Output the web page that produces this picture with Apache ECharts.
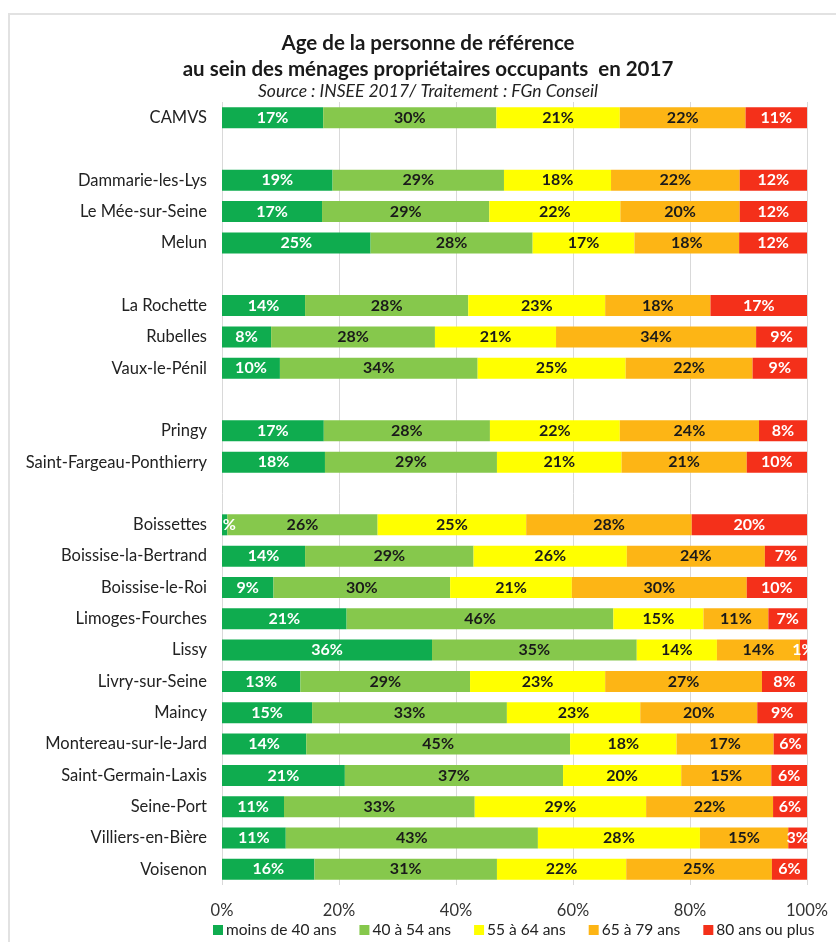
<!DOCTYPE html>
<html><head><meta charset="utf-8">
<script src="https://cdn.jsdelivr.net/npm/echarts@6/dist/echarts.min.js"></script>
<style>html,body{margin:0;padding:0;background:#fff}#c{width:836px;height:942px}</style>
</head><body><div id="c"></div>
<script>
const categories = ['CAMVS',' ','Dammarie-les-Lys','Le Mée-sur-Seine','Melun','  ','La Rochette','Rubelles','Vaux-le-Pénil','   ','Pringy','Saint-Fargeau-Ponthierry','    ','Boissettes','Boissise-la-Bertrand','Boissise-le-Roi','Limoges-Fourches','Lissy','Livry-sur-Seine','Maincy','Montereau-sur-le-Jard','Saint-Germain-Laxis','Seine-Port','Villiers-en-Bière','Voisenon'];
const seriesNames = ['moins de 40 ans','40 à 54 ans','55 à 64 ans','65 à 79 ans','80 ans ou plus'];
const moins40 = [17.3,null,18.9,17.1,25.4,null,14.2,8.4,9.9,null,17.4,17.6,null,0.9,14.2,8.8,21.3,35.9,13.4,15.4,14.4,21.0,10.6,10.9,15.8];
const de40a54 = [29.6,null,29.3,28.6,27.7,null,27.9,28.0,33.8,null,28.4,29.4,null,25.7,28.8,30.2,45.6,35.0,29.0,33.3,45.1,37.3,32.6,43.1,31.2];
const de55a64 = [21.1,null,18.3,22.4,17.4,null,23.4,20.7,25.3,null,22.2,21.3,null,25.4,26.2,20.8,15.4,13.7,23.1,22.8,18.2,20.2,29.3,27.7,22.1];
const de65a79 = [21.5,null,22.0,20.4,17.9,null,18.0,34.2,21.7,null,23.8,21.4,null,28.3,23.6,29.9,11.1,14.2,26.8,20.0,16.6,15.4,21.7,15.1,24.9];
const plus80  = [10.5,null,11.5,11.5,11.6,null,16.5,8.7,9.3,null,8.2,10.3,null,19.7,7.2,10.3,6.6,1.2,7.7,8.5,5.7,6.1,5.8,3.2,6.0];
const xTicks = [0,20,40,60,80,100];

const colors = ['#0fac4f','#86c84c','#ffff00','#fdb515','#f4301a'];
const labelColors = ['#ffffff','#1a1a1a','#1a1a1a','#1a1a1a','#ffffff'];
const allData = [moins40,de40a54,de55a64,de65a79,plus80];
const FONT = 'Lato, "Open Sans", sans-serif';

const chart = echarts.init(document.getElementById('c'));
chart.setOption({
  backgroundColor:'#fff',
  animation:false,
  graphic:[
    {type:'polyline',shape:{points:[[9,942],[9,14],[836,14]]},style:{stroke:'#e2e2e2',lineWidth:2,fill:null},silent:true}
  ],
  title:{
    text:'Age de la personne de référence\nau sein des ménages propriétaires occupants  en 2017',
    subtext:'Source : INSEE 2017/ Traitement : FGn Conseil',
    left:423, textAlign:'center', top:25,
    textStyle:{fontFamily:FONT,fontSize:20.5,fontWeight:'bold',color:'#1a1a1a',lineHeight:26},
    subtextStyle:{fontFamily:FONT,fontSize:17.5,fontStyle:'italic',color:'#222'},
    itemGap:0
  },
  grid:{left:222,right:29,top:102,bottom:57,containLabel:false},
  xAxis:{
    type:'value',min:0,max:100,interval:20,
    axisLabel:{formatter:v=>v+'%',fontFamily:FONT,fontSize:16.5,color:'#333',margin:17},
    splitLine:{show:true,lineStyle:{color:'#d9d9d9'}},
    axisLine:{show:false},axisTick:{show:false}
  },
  yAxis:{
    type:'category',data:categories,inverse:true,
    axisLabel:{fontFamily:FONT,fontSize:16.5,color:'#222',margin:15},
    axisLine:{show:false},axisTick:{show:false}
  },
  legend:{
    data:seriesNames,top:922,left:213,width:620,
    icon:'rect',itemWidth:10,itemHeight:10,itemGap:23,padding:0,
    textStyle:{fontFamily:FONT,fontSize:15.5,color:'#222',padding:[0,0,0,-2]}
  },
  series:allData.map((d,i)=>({
    name:seriesNames[i],type:'bar',stack:'total',data:d,
    barWidth:21,
    itemStyle:{color:colors[i]},
    label:{show:true,position:'inside',
      formatter:p=>p.value==null?'':Math.round(p.value)+'%',
      fontFamily:FONT,fontSize:16,fontWeight:'bold',color:labelColors[i]}
  }))
});
</script></body></html>
